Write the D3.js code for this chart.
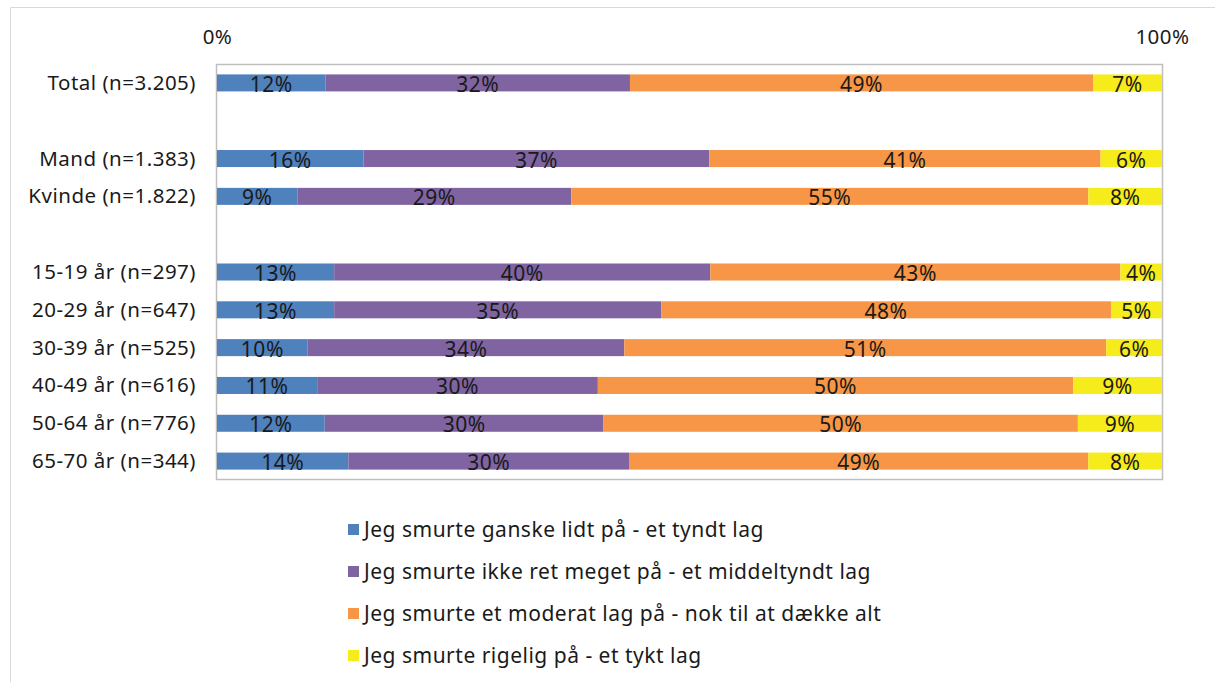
<!DOCTYPE html>
<html>
<head>
<meta charset="utf-8">
<script src="https://cdn.jsdelivr.net/npm/d3@7"></script>
<style>
  body { margin: 0; background: #fff; }
  svg text { font-family: 'Noto Sans', sans-serif; fill: #1a1a1a; letter-spacing: 0.5px; }
</style>
</head>
<body>
<svg id="chart" width="1215" height="682"></svg>
<script>
// rows, with blank strings as the empty spacer rows
const categories = [
  'Total (n=3.205)', '',
  'Mand (n=1.383)', 'Kvinde (n=1.822)', ' ',
  '15-19 år (n=297)', '20-29 år (n=647)', '30-39 år (n=525)',
  '40-49 år (n=616)', '50-64 år (n=776)', '65-70 år (n=344)'
];

const seriesNames = [
  'Jeg smurte ganske lidt på - et tyndt lag',
  'Jeg smurte ikke ret meget på - et middeltyndt lag',
  'Jeg smurte et moderat lag på - nok til at dække alt',
  'Jeg smurte rigelig på - et tykt lag'
];

// shares (%)
const thin     = [11.5, null, 15.5, 8.5, null, 12.4, 12.4, 9.6, 10.6, 11.4, 13.9];
const middle   = [32.2, null, 36.6, 29.0, null, 39.8, 34.6, 33.5, 29.7, 29.5, 29.7];
const moderate = [49.0, null, 41.4, 54.7, null, 43.4, 47.6, 51.0, 50.3, 50.2, 48.6];
const thick    = [7.3, null, 6.5, 7.8, null, 4.4, 5.4, 5.9, 9.4, 8.9, 7.8];

// printed labels
const thinLbl     = ['12%', '', '16%', '9%', '', '13%', '13%', '10%', '11%', '12%', '14%'];
const middleLbl   = ['32%', '', '37%', '29%', '', '40%', '35%', '34%', '30%', '30%', '30%'];
const moderateLbl = ['49%', '', '41%', '55%', '', '43%', '48%', '51%', '50%', '50%', '49%'];
const thickLbl    = ['7%', '', '6%', '8%', '', '4%', '5%', '6%', '9%', '9%', '8%'];

const colors = ['#4f81bd', '#8064a2', '#f79646', '#f7ec1b'];

const seriesValues = [thin, middle, moderate, thick];
const seriesLabels = [thinLbl, middleLbl, moderateLbl, thickLbl];

const margin = { top: 64, left: 216, plotW: 946, plotH: 416 };

const svg = d3.select('#chart');

// outer frame
svg.append('path')
  .attr('d', 'M10.5,682 V7.5 H1215')
  .attr('fill', 'none')
  .attr('stroke', '#d9d9d9')
  .attr('stroke-width', 1);

const x = d3.scaleLinear().domain([0, 100]).range([0, margin.plotW - 1]);
const y = d3.scaleBand()
  .domain(categories)
  .range([0, margin.plotH])
  .paddingInner(0.55)
  .paddingOuter(0.275);

const g = svg.append('g').attr('transform', `translate(${margin.left},${margin.top})`);

// plot border
g.append('rect')
  .attr('x', 0.5).attr('y', 0.5)
  .attr('width', margin.plotW).attr('height', margin.plotH - 1)
  .attr('fill', 'none')
  .attr('stroke', '#bfbfbf')
  .attr('stroke-width', 1.5);

// stacked rows
const rows = categories.map((c, i) => {
  let acc = 0;
  return seriesValues.map((vals, s) => {
    const v = vals[i];
    const seg = { cat: c, s, x0: acc, x1: acc + (v || 0), label: seriesLabels[s][i], v };
    acc += v || 0;
    return seg;
  }).filter(d => d.v != null);
}).flat();

const bars = g.append('g').attr('transform', 'translate(1,0)');

bars.selectAll('rect')
  .data(rows)
  .join('rect')
  .attr('x', d => x(d.x0))
  .attr('y', d => y(d.cat))
  .attr('width', d => x(d.x1) - x(d.x0))
  .attr('height', y.bandwidth())
  .attr('fill', d => colors[d.s]);

bars.selectAll('text')
  .data(rows)
  .join('text')
  .attr('x', d => (x(d.x0) + x(d.x1)) / 2)
  .attr('y', d => y(d.cat) + y.bandwidth() / 2 + 9)
  .attr('text-anchor', 'middle')
  .style('font-size', '21px')
  .text(d => d.label);

// category labels
g.append('g')
  .selectAll('text')
  .data(categories.filter(c => c.trim() !== ''))
  .join('text')
  .attr('x', -20)
  .attr('y', d => y(d) + y.bandwidth() / 2 + 7)
  .attr('text-anchor', 'end')
  .style('font-size', '20.5px')
  .text(d => d);

// top axis, labels only
const axis = d3.axisTop(x).tickValues([0, 100]).tickSize(0).tickPadding(0)
  .tickFormat(d => d + '%');
g.append('g')
  .attr('transform', 'translate(1,-20)')
  .call(axis)
  .call(a => a.select('.domain').remove())
  .selectAll('text')
  .style('font-size', '20.5px')
  .attr('fill', '#1a1a1a');

// legend
const legend = svg.append('g').attr('transform', 'translate(348,530)');
const item = legend.selectAll('g')
  .data(seriesNames)
  .join('g')
  .attr('transform', (d, i) => `translate(0,${i * 42})`);

item.append('rect')
  .attr('x', 0).attr('y', -6)
  .attr('width', 11).attr('height', 11)
  .attr('fill', (d, i) => colors[i]);

item.append('text')
  .attr('x', 16)
  .attr('y', 7)
  .style('font-size', '21px')
  .text(d => d);
</script>
</body>
</html>
